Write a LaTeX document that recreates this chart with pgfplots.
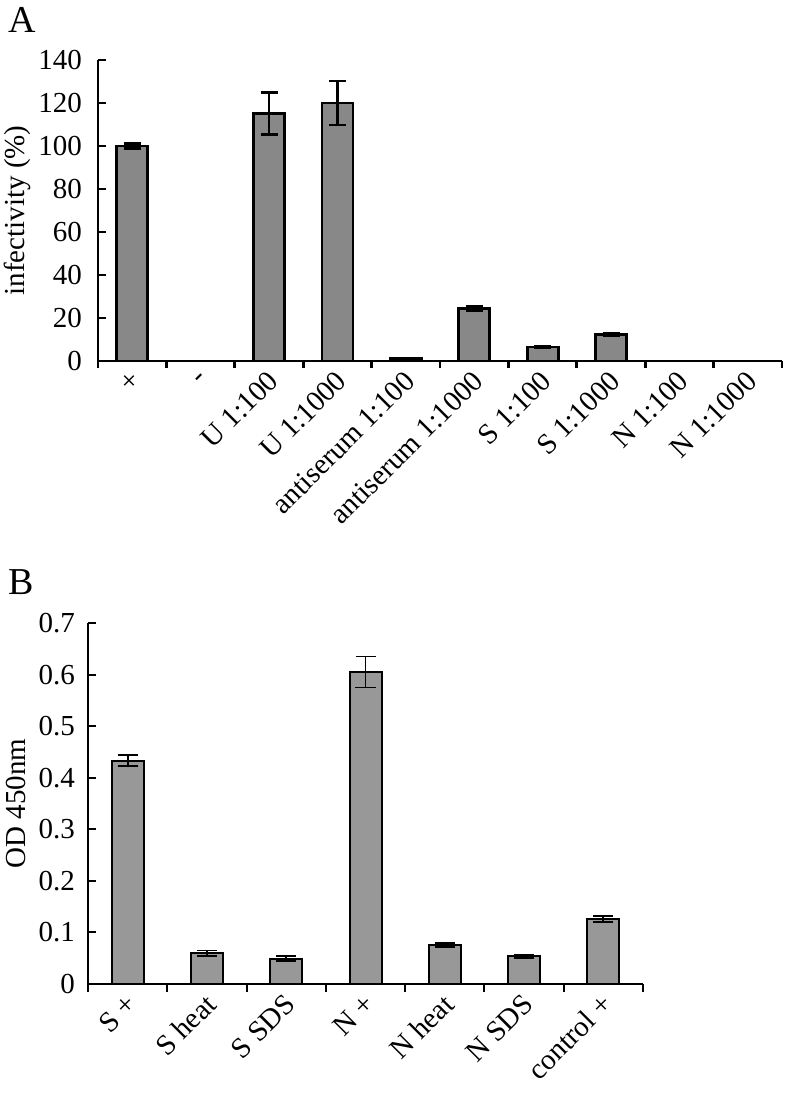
\documentclass[border=0pt]{standalone}
\usepackage{pgfplots}
\pgfplotsset{compat=1.18}
\usepackage{fontspec}
\setmainfont{Liberation Serif}
\definecolor{barA}{RGB}{136,136,136}
\definecolor{barB}{RGB}{152,152,152}
\begin{document}
\begin{tikzpicture}
\path[use as bounding box] (0,0) rectangle (393.5pt,548.5pt);
\node[anchor=base west,font=\fontsize{19}{22}\selectfont,inner sep=0pt] at (4pt,532pt) {A};
\node[anchor=base west,font=\fontsize{19}{22}\selectfont,inner sep=0pt] at (4pt,251pt) {B};
% Panel A
\begin{axis}[
  at={(49pt,368pt)}, anchor=south west,
  scale only axis, width=342pt, height=150.5pt,
  xmin=-0.5, xmax=9.5, ymin=0, ymax=140,
  axis x line=bottom, axis y line=left,
  axis line style={-, line width=1.4pt, black},
  ytick={0,20,...,140},
  yticklabels={0,20,40,60,80,100,120,140},
  xtick={0,...,9},
  xticklabels={+,-,U 1:100,U 1:1000,antiserum 1:100,antiserum 1:1000,S 1:100,S 1:1000,N 1:100,N 1:1000},
  minor xtick={-0.5,0.5,...,9.5},
  major x tick style={draw=none},
  minor x tick style={line width=1.4pt, black},
  y tick style={line width=1.4pt, black},
  tick align=inside,
  major tick length=4pt, minor tick length=3.5pt,
  ticklabel style={font=\fontsize{14.5}{16}\selectfont},
  yticklabel style={xshift=-4.5pt},
  xticklabel style={rotate=45, anchor=east, inner sep=1pt, yshift=-4pt},
  ylabel={infectivity (\%)},
  ylabel style={font=\fontsize{14.5}{16}\selectfont, at={(axis description cs:-0.118,0.5)}, anchor=center},
  ybar, bar width=15.5pt,
  clip=false,
]
\addplot[fill=barA, draw=black, line width=1.4pt,
  error bars/.cd, y dir=both, y explicit,
  error bar style={line width=1.4pt, black},
  error mark options={rotate=90, mark size=4.25pt, line width=1.4pt, black}]
  coordinates {
  (0,100) +- (0,1)
  (2,115) +- (0,9.7)
  (3,120) +- (0,10.2)
  (4,1) +- (0,0.3)
  (5,24.5) +- (0,1)
  (6,6.5) +- (0,0.4)
  (7,12.2) +- (0,0.5)
  };
\end{axis}
% Panel B
\begin{axis}[
  at={(44pt,56.5pt)}, anchor=south west,
  scale only axis, width=277.5pt, height=180.5pt,
  xmin=-0.5, xmax=6.5, ymin=0, ymax=0.7,
  axis x line=bottom, axis y line=left,
  axis line style={-, line width=1pt, black},
  ytick={0,0.1,...,0.7},
  yticklabels={0,0.1,0.2,0.3,0.4,0.5,0.6,0.7},
  xtick={0,...,6},
  xticklabels={S +,S heat,S SDS,N +,N heat,N SDS,control +},
  minor xtick={-0.5,0.5,...,6.5},
  major x tick style={draw=none},
  minor x tick style={line width=1pt, black},
  y tick style={line width=1pt, black},
  tick align=inside,
  major tick length=4pt, minor tick length=4pt,
  ticklabel style={font=\fontsize{14.5}{16}\selectfont},
  yticklabel style={xshift=-3pt},
  xticklabel style={rotate=45, anchor=east, inner sep=1pt, yshift=-4pt},
  ylabel={OD 450nm},
  ylabel style={font=\fontsize{14.5}{16}\selectfont, at={(axis description cs:-0.13,0.5)}, anchor=center},
  ybar, bar width=16pt,
  clip=false,
]
\addplot[fill=barB, draw=black, line width=1pt,
  error bars/.cd, y dir=both, y explicit,
  error bar style={line width=0.9pt, black},
  error mark options={rotate=90, mark size=5pt, line width=0.9pt, black}]
  coordinates {
  (0,0.433) +- (0,0.011)
  (1,0.060) +- (0,0.005)
  (2,0.049) +- (0,0.005)
  (3,0.605) +- (0,0.030)
  (4,0.075) +- (0,0.004)
  (5,0.054) +- (0,0.003)
  (6,0.126) +- (0,0.006)
  };
\end{axis}
\end{tikzpicture}
\end{document}
